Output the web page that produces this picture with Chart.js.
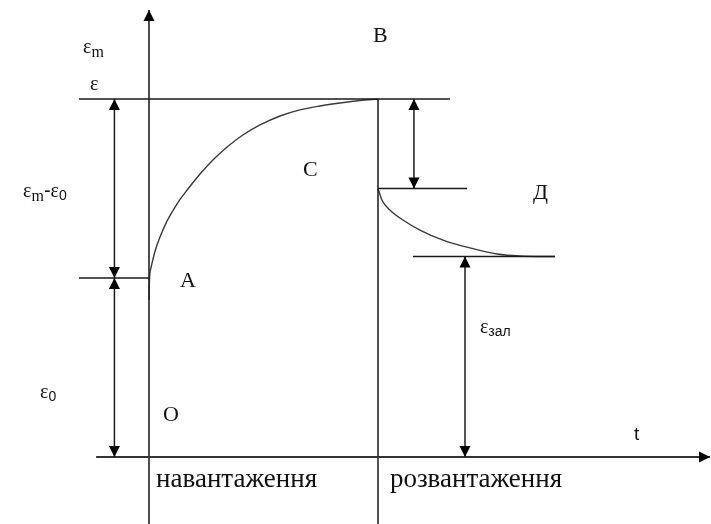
<!DOCTYPE html>
<html>
<head>
<meta charset="utf-8">
<script src="https://cdn.jsdelivr.net/npm/chart.js@4/dist/chart.umd.min.js"></script>
<style>
  html, body { margin: 0; padding: 0; background: #fff; }
  #c { display: block; }
</style>
</head>
<body>
<canvas id="c" width="711" height="524"></canvas>
<script>
// Strain levels (relative units)
const EPS_0 = 1.0;       // instantaneous strain on loading (point A)
const EPS_M = 2.0;       // maximum strain at the end of loading (point B)
const EPS_UNLOAD = 1.5;  // strain right after unloading
const EPS_RES = 1.12;    // residual strain ε_зал
const T_UNLOAD = 1.0;    // moment of unloading

// Creep under constant load, A → C → B
const loadT   = [0, 0.002, 0.0087, 0.0175, 0.0306, 0.048, 0.0786, 0.122, 0.170, 0.223, 0.279, 0.341, 0.410, 0.485, 0.572, 0.659, 0.747, 0.834, 0.921, 1.0];
const loadEps = [0.877, 0.989, 1.056, 1.106, 1.168, 1.229, 1.318, 1.413, 1.497, 1.581, 1.659, 1.732, 1.799, 1.855, 1.905, 1.939, 1.961, 1.978, 1.992, 2.0];

// Recovery after unloading, towards Д
const unloadT   = [1.0, 1.017, 1.052, 1.109, 1.183, 1.284, 1.402, 1.520, 1.620, 1.773];
const unloadEps = [1.5, 1.436, 1.380, 1.324, 1.268, 1.212, 1.168, 1.134, 1.123, 1.12];

// Axes extents: [from, to]
const tAxisRange   = [-0.231, 2.450];
const epsAxisRange = [-0.40, 2.497];

// Level lines: [t1, eps1, t2, eps2]
const levelLines = [
  [-0.306, EPS_M, 1.314, EPS_M],
  [-0.306, EPS_0, 0, EPS_0],
  [T_UNLOAD, EPS_UNLOAD, 1.389, EPS_UNLOAD],
  [1.153, EPS_RES, 1.773, EPS_RES],
  [T_UNLOAD, EPS_M, T_UNLOAD, -0.40]
];

// Dimension arrows (heads on both ends): [t, epsFrom, epsTo]
const dimArrows = [
  [-0.151, EPS_0, EPS_M],
  [-0.151, 0, EPS_0],
  [1.157, EPS_UNLOAD, EPS_M],
  [1.380, 0, EPS_RES]
];

// Text runs: [text, style]
const fonts = {
  greek:  { font: '20px "Liberation Serif"', dy: 0 },
  subM:   { font: '16px "Liberation Serif"', dy: 4 },
  sub0:   { font: '14px "Liberation Sans"', dy: 3 },
  subRus: { font: '14px "Liberation Sans"', dy: 3 },
  dash:   { font: '20px "Liberation Sans"', dy: 0 },
  letter: { font: '22px "Liberation Serif"', dy: 0 },
  word:   { font: '27px "Liberation Serif"', dy: 0 },
  tLabel: { font: '19px "Liberation Sans"', dy: 0 }
};
const annotations = [
  { t: -0.288, eps: 2.257, runs: [['ε', 'greek'], ['m', 'subM']] },
  { t: -0.258, eps: 2.050, runs: [['ε', 'greek']] },
  { t: -0.550, eps: 1.453, runs: [['ε', 'greek'], ['m', 'subM'], ['-', 'dash'], ['ε', 'greek'], ['0', 'sub0']] },
  { t: -0.476, eps: 0.330, runs: [['ε', 'greek'], ['0', 'sub0']] },
  { t: 0.135,  eps: 0.950, runs: [['A', 'letter']] },
  { t: 0.061,  eps: 0.201, runs: [['O', 'letter']] },
  { t: 0.978,  eps: 2.318, runs: [['B', 'letter']] },
  { t: 0.672,  eps: 1.570, runs: [['C', 'letter']] },
  { t: 1.677,  eps: 1.441, runs: [['Д', 'letter']] },
  { t: 1.445,  eps: 0.693, runs: [['ε', 'greek'], ['зал', 'subRus']] },
  { t: 2.118,  eps: 0.095, runs: [['t', 'tLabel']] },
  { t: 0.031,  eps: -0.168, runs: [['навантаження', 'word']] },
  { t: 1.052,  eps: -0.168, runs: [['розвантаження', 'word']] }
];

const INK = '#1a1a1a';
const CURVE = '#3a3a3a';

function seg(t1, e1, t2, e2, extra) {
  return Object.assign({
    data: [{ x: t1, y: e1 }, { x: t2, y: e2 }],
    showLine: true, borderColor: INK, borderWidth: 1.5,
    pointRadius: 0, fill: false
  }, extra || {});
}

const datasets = [];
// Axes with arrow tips
datasets.push(seg(tAxisRange[0], 0, tAxisRange[1], 0, { arrowEnds: ['end'], borderColor: '#333', borderWidth: 2 }));
datasets.push(seg(0, epsAxisRange[0], 0, epsAxisRange[1], { arrowEnds: ['end'], borderColor: '#222', borderWidth: 1.6 }));
levelLines.forEach(l => datasets.push(seg(l[0], l[1], l[2], l[3])));
dimArrows.forEach(a => datasets.push(seg(a[0], a[1], a[0], a[2], { arrowEnds: ['start', 'end'] })));
datasets.push({
  data: loadT.map((t, i) => ({ x: t, y: loadEps[i] })),
  showLine: true, borderColor: CURVE, borderWidth: 1.4, pointRadius: 0,
  cubicInterpolationMode: 'monotone'
});
datasets.push({
  data: unloadT.map((t, i) => ({ x: t, y: unloadEps[i] })),
  showLine: true, borderColor: CURVE, borderWidth: 1.4, pointRadius: 0,
  cubicInterpolationMode: 'monotone'
});

const arrowHeads = {
  id: 'arrowHeads',
  afterDatasetsDraw(chart) {
    const ctx = chart.ctx;
    chart.data.datasets.forEach((ds, i) => {
      if (!ds.arrowEnds) return;
      const pts = chart.getDatasetMeta(i).data;
      const head = (tip, from) => {
        const ang = Math.atan2(tip.y - from.y, tip.x - from.x);
        ctx.save();
        ctx.translate(tip.x, tip.y);
        ctx.rotate(ang);
        ctx.beginPath();
        ctx.moveTo(0, 0);
        ctx.lineTo(-11, -5.5);
        ctx.lineTo(-11, 5.5);
        ctx.closePath();
        ctx.fillStyle = '#000';
        ctx.fill();
        ctx.restore();
      };
      if (ds.arrowEnds.includes('start')) head(pts[0], pts[1]);
      if (ds.arrowEnds.includes('end')) head(pts[pts.length - 1], pts[pts.length - 2]);
    });
  }
};

const textLabels = {
  id: 'textLabels',
  afterDraw(chart) {
    const ctx = chart.ctx;
    const xs = chart.scales.x, ys = chart.scales.y;
    ctx.save();
    ctx.fillStyle = '#111';
    ctx.textAlign = 'left';
    ctx.textBaseline = 'alphabetic';
    annotations.forEach(a => {
      let x = xs.getPixelForValue(a.t);
      const y = ys.getPixelForValue(a.eps);
      a.runs.forEach(([txt, key]) => {
        const f = fonts[key];
        ctx.font = f.font;
        ctx.fillText(txt, x, y + f.dy);
        x += ctx.measureText(txt).width;
      });
    });
    ctx.restore();
  }
};

new Chart(document.getElementById('c'), {
  type: 'scatter',
  data: { datasets },
  options: {
    responsive: false,
    animation: false,
    devicePixelRatio: 1,
    layout: { padding: 0 },
    plugins: { legend: { display: false }, tooltip: { enabled: false } },
    scales: {
      x: { type: 'linear', display: false, min: -149 / 229, max: 562 / 229 },
      y: { type: 'linear', display: false, min: -67 / 179, max: 457 / 179 }
    }
  },
  plugins: [arrowHeads, textLabels]
});
</script>
</body>
</html>
